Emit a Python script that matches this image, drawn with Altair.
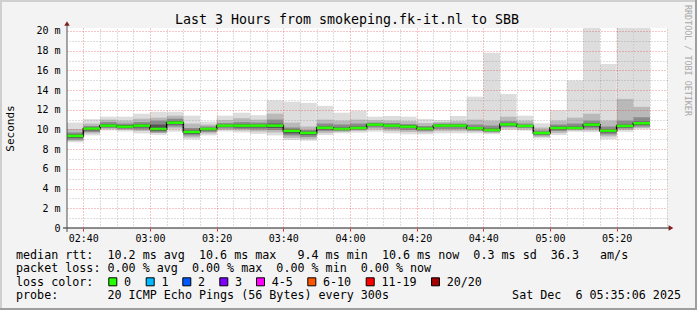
import json
import altair as alt
import pandas as pd

# ---------------- data ----------------
bar_starts = ["02:35", "02:40", "02:45", "02:50", "02:55", "03:00", "03:05", "03:10", "03:15",
              "03:20", "03:25", "03:30", "03:35", "03:40", "03:45", "03:50", "03:55", "04:00",
              "04:05", "04:10", "04:15", "04:20", "04:25", "04:30", "04:35", "04:40", "04:45",
              "04:50", "04:55", "05:00", "05:05", "05:10", "05:15", "05:20", "05:25"]
median = [9.35, 10.08, 10.39, 10.29, 10.39, 10.05, 10.69, 9.75, 10.05, 10.39, 10.39, 10.39,
          10.39, 9.86, 9.65, 10.17, 10.05, 10.15, 10.49, 10.39, 10.29, 10.08, 10.39, 10.39,
          10.12, 9.95, 10.52, 10.36, 9.64, 10.15, 10.15, 10.49, 9.88, 10.36, 10.63]
ping_max = [10.7, 11.05, 11.3, 11.3, 11.6, 11.8, 11.8, 11.4, 10.8, 11.4, 11.7, 11.45, 12.95,
            12.82, 12.7, 12.39, 11.7, 11.9, 11.3, 11.37, 11.3, 11.07, 10.96, 11.37, 13.33,
            17.8, 13.6, 11.4, 10.63, 11.95, 14.96, 24.0, 16.65, 24.0, 24.0]
ping_min = [8.7, 9.4, 9.9, 9.8, 9.6, 9.45, 9.78, 9.0, 9.4, 9.8, 9.7, 9.55, 9.4, 8.93, 8.86,
            9.44, 9.61, 9.68, 9.78, 9.61, 9.51, 9.51, 9.61, 9.61, 9.61, 9.51, 9.95, 9.88, 9.1,
            9.44, 9.78, 9.71, 9.0, 9.78, 10.02]
p18 = [10.05, 10.6, 11.0, 10.9, 11.1, 11.2, 11.4, 10.6, 10.5, 10.95, 11.15, 11.0, 11.6, 10.7,
       10.3, 11.0, 10.9, 11.0, 10.95, 10.9, 10.85, 10.65, 10.75, 10.85, 11.0, 10.9, 11.3, 10.9,
       10.2, 10.9, 11.2, 11.6, 10.9, 13.1, 12.3]
p3 = [8.85, 9.6, 10.05, 9.95, 9.85, 9.65, 10.1, 9.2, 9.6, 9.95, 9.9, 9.8, 9.7, 9.15, 9.05, 9.65,
      9.75, 9.85, 10.0, 9.85, 9.75, 9.7, 9.85, 9.85, 9.8, 9.65, 10.1, 10.0, 9.25, 9.65, 9.9, 9.9,
      9.3, 9.95, 10.15]
p15 = [9.7, 10.35, 10.75, 10.6, 10.75, 10.9, 11.1, 10.15, 10.3, 10.65, 10.75, 10.7, 11.0, 10.2,
       9.95, 10.6, 10.5, 10.6, 10.7, 10.65, 10.55, 10.35, 10.6, 10.6, 10.5, 10.4, 10.85, 10.6,
       9.9, 10.5, 10.6, 10.9, 10.3, 10.9, 11.24]
p6 = [8.95, 9.75, 10.15, 10.05, 10.0, 9.7, 10.3, 9.4, 9.75, 10.1, 10.05, 10.0, 9.95, 9.4, 9.25,
      9.85, 9.85, 9.95, 10.2, 10.05, 9.95, 9.85, 10.05, 10.05, 9.9, 9.75, 10.25, 10.15, 9.4,
      9.85, 10.0, 10.1, 9.5, 10.1, 10.3]
p12 = [9.5, 10.2, 10.55, 10.45, 10.55, 10.5, 10.85, 9.9, 10.15, 10.5, 10.55, 10.5, 10.6, 10.0,
       9.8, 10.3, 10.2, 10.3, 10.6, 10.5, 10.4, 10.2, 10.5, 10.5, 10.25, 10.1, 10.65, 10.45,
       9.75, 10.3, 10.3, 10.65, 10.0, 10.5, 10.8]
p9 = [9.15, 9.9, 10.25, 10.15, 10.2, 9.85, 10.5, 9.55, 9.9, 10.25, 10.2, 10.2, 10.15, 9.6, 9.45,
      10.0, 9.95, 10.05, 10.35, 10.25, 10.15, 9.95, 10.25, 10.25, 10.0, 9.85, 10.4, 10.25, 9.5,
      10.0, 10.05, 10.3, 9.7, 10.2, 10.45]

x_tick_labels = ["02:40", "03:00", "03:20", "03:40", "04:00", "04:20", "04:40", "05:00", "05:20"]
y_tick_values = [0, 2, 4, 6, 8, 10, 12, 14, 16, 18, 20]
y_tick_labels = ["0", "2 m", "4 m", "6 m", "8 m", "10 m", "12 m", "14 m", "16 m", "18 m", "20 m"]

loss_labels = ["0", "1", "2", "3", "4-5", "6-10", "11-19", "20/20"]
loss_colors = ["#26ff00", "#00b8ff", "#0059ff", "#7e00ff", "#ff00ff", "#ff5500", "#ff0000", "#a10000"]

title_text = "Last 3 Hours from smokeping.fk-it.nl to SBB"
line_rtt = "median rtt:  10.2 ms avg  10.6 ms max   9.4 ms min  10.6 ms now  0.3 ms sd  36.3   am/s"
line_loss = "packet loss: 0.00 % avg  0.00 % max  0.00 % min  0.00 % now"
line_color = "loss color:"
line_probe = "probe:       20 ICMP Echo Pings (56 Bytes) every 300s"
line_date = "Sat Dec  6 05:35:06 2025"
watermark = "RRDTOOL / TOBI OETIKER"

# ---------------- helpers ----------------
ORIGIN = 2 * 60 + 35  # minutes of 02:35
NB = "\u00a0"


def keep_spaces(s):
    return s.replace(" ", NB)


def to_min(s):
    h, m = s.split(":")
    return int(h) * 60 + int(m) - ORIGIN


starts = [to_min(s) for s in bar_starts]
ends = starts[1:] + [starts[-1] + 5]
x_major = [to_min(s) for s in x_tick_labels]
x_minor = [v for v in range(10, 181, 5) if v not in x_major]
y_minor = [v for v in range(1, 21) if v % 2 == 1]

MONO = "DejaVu Sans Mono"

levels = [("a", ping_min, ping_max), ("b", p3, p18), ("c", p6, p15), ("d", p9, p12)]
level_colors = ["#dddddd", "#b9b9b9", "#8a8a8a", "#555555"]
smoke_rows = []
for name, lo, hi in levels:
    for i in range(len(starts)):
        smoke_rows.append({"level": name, "s": starts[i], "e": ends[i], "lo": lo[i], "hi": hi[i]})
smoke_df = pd.DataFrame(smoke_rows)

med_df = pd.DataFrame({"s": starts, "e": ends, "med": median})
step_df = pd.DataFrame({"s": starts + [ends[-1]], "med": median + [median[-1]]})

xs = alt.Scale(domain=[0.1, 180.1], nice=False, zero=False)
ys = alt.Scale(domain=[0, 20.3], nice=False, zero=False)

x_label_expr = json.dumps(x_tick_labels) + "[round((datum.value - %d) / 20)]" % x_major[0]
y_label_expr = json.dumps(y_tick_labels) + "[round(datum.value / 2)]"

axis_x_major = alt.Axis(orient="bottom", values=x_major, labelExpr=x_label_expr, grid=True,
                        gridColor="#DE3030", gridOpacity=0.55, gridDash=[1, 2], domain=False,
                        ticks=True, tickColor="#DE3030", tickSize=3, labelFont=MONO,
                        labelFontSize=10, labelColor="#000000", labelPadding=2, title=None,
                        zindex=1)
axis_y_major = alt.Axis(orient="left", values=y_tick_values, labelExpr=y_label_expr, grid=True,
                        gridColor="#DE3030",
                        gridOpacity={"condition": {"test": "datum.value === 0", "value": 0}, "value": 0.55},
                        gridDash=[1, 2], domain=False, ticks=False, labelFont=MONO,
                        labelFontSize=10, labelColor="#000000", labelPadding=7,
                        title="Seconds", titleFont=MONO, titleFontSize=11, titleFontWeight="normal",
                        titleColor="#000000", titleX=-57, titleY=100, titleAngle=270,
                        titleAlign="center", titleBaseline="middle", zindex=1)
axis_x_minor = alt.Axis(orient="top", values=x_minor, grid=True, gridColor="#8f8f8f",
                        gridOpacity=0.6, gridDash=[1, 2], labels=False, ticks=False,
                        domain=False, title=None, zindex=1)
axis_y_minor = alt.Axis(orient="right", values=y_minor, grid=True, gridColor="#8f8f8f",
                        gridOpacity=0.6, gridDash=[1, 2], labels=False, ticks=False,
                        domain=False, title=None, zindex=1)

smoke = alt.Chart(smoke_df).mark_rect(clip=True, strokeWidth=0).encode(
    x=alt.X("s:Q", scale=xs, axis=axis_x_major),
    x2="e:Q",
    y=alt.Y("lo:Q", scale=ys, axis=axis_y_major),
    y2="hi:Q",
    color=alt.Color("level:N", scale=alt.Scale(domain=[l[0] for l in levels], range=level_colors),
                    legend=None),
)

step = alt.Chart(step_df).mark_line(interpolate="step-after", color="#000000",
                                     strokeWidth=1.5, clip=True).encode(
    x=alt.X("s:Q", scale=xs, axis=None),
    y=alt.Y("med:Q", scale=ys, axis=None),
)

med_line = alt.Chart(med_df).mark_rule(color=loss_colors[0], strokeWidth=2.5, clip=True).encode(
    x=alt.X("s:Q", scale=xs, axis=axis_x_minor),
    x2="e:Q",
    y=alt.Y("med:Q", scale=ys, axis=axis_y_minor),
)

one = alt.Data(values=[{"k": 0}])


def rule(x, x2, y, y2, color, w):
    return alt.Chart(one).mark_rule(color=color, strokeWidth=w).encode(
        x=alt.value(x), x2=alt.value(x2), y=alt.value(y), y2=alt.value(y2))


def text(x, y, t, size=11.7, align="left", color="#000000", angle=0, baseline="alphabetic"):
    return alt.Chart(one).mark_text(text=keep_spaces(t), font=MONO, fontSize=size, align=align,
                                    color=color, angle=angle, baseline=baseline).encode(
        x=alt.value(x), y=alt.value(y))


# axis lines and arrows
x_axis_line = rule(-4, 603, 200, 200, "#1f1f1f", 1)
y_axis_line = rule(0, 0, -5, 204, "#4f4f4f", 1)
arrows = [
    alt.Chart(one).mark_point(shape="triangle-up", filled=True, size=30, color="#7f1f1f",
                              opacity=1).encode(x=alt.value(0), y=alt.value(-4.5)),
    alt.Chart(one).mark_point(shape="triangle-right", filled=True, size=30, color="#7f1f1f",
                              opacity=1).encode(x=alt.value(604), y=alt.value(200)),
]

# frame shading
frame = [
    rule(-67, 630, -27, -27, "#cfcfcf", 2),
    rule(-66, -66, -28, 282, "#cfcfcf", 2),
    rule(629, 629, -28, 282, "#9e9e9e", 2),
    rule(-67, 630, 281, 281, "#9e9e9e", 2),
]

# texts
texts = [
    text(280, -4, title_text, size=13.3, align="center"),
    text(-51, 230.5, line_rtt),
    text(-51, 244, line_loss),
    text(-51, 257.5, line_color),
    text(-51, 271, line_probe),
    text(614, 271, line_date, align="right"),
    text(620.5, -23, watermark, size=8.4, color="#a8a8a8", angle=90, baseline="middle"),
]

# loss colour legend
box_left = [108.3, 145.7, 182.3, 219.3, 256.0, 307.3, 365.7, 431.0]
leg_df = pd.DataFrame({"lab": loss_labels, "col": loss_colors,
                       "bx": [b + 4.5 - 67 for b in box_left],
                       "tx": [b + 15.7 - 67 for b in box_left]})
leg_boxes = alt.Chart(leg_df).mark_square(size=64, stroke="#000000", strokeWidth=1,
                                          opacity=1).encode(
    x=alt.X("bx:Q", scale=None), y=alt.value(253.8),
    fill=alt.Fill("col:N", scale=None))
leg_text = alt.Chart(leg_df).mark_text(font=MONO, fontSize=11.7, align="left",
                                       baseline="alphabetic", color="#000000").encode(
    x=alt.X("tx:Q", scale=None), y=alt.value(257.5), text="lab:N")

chart = alt.layer(
    smoke, step, med_line, x_axis_line, y_axis_line, *arrows, *frame, *texts, leg_boxes, leg_text
).resolve_axis(x="independent", y="independent").properties(
    width=600, height=200,
    autosize=alt.AutoSizeParams(type="none"),
    padding={"left": 67, "top": 28, "right": 30, "bottom": 82},
    background="#f3f3f3",
).configure_view(stroke=None, fill="#ffffff")

chart.save("out.html", embed_options={"renderer": "svg", "actions": False})
